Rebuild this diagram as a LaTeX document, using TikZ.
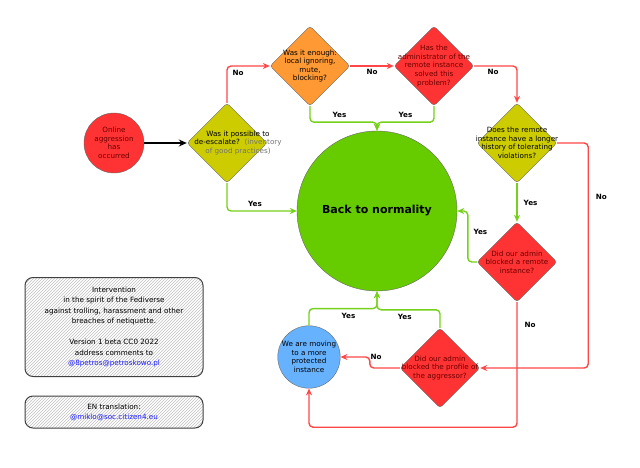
\documentclass[tikz,border=0pt]{standalone}
\usepackage{fontspec}
\setmainfont{DejaVu Sans}
\usepackage{tikz}
\usetikzlibrary{shapes.geometric,arrows.meta,positioning,patterns}
\usepackage{xcolor}
\definecolor{alarm}{HTML}{FF3333}
\definecolor{alarmtext}{HTML}{6B0000}
\definecolor{olive}{HTML}{CCCC00}
\definecolor{amber}{HTML}{FF9933}
\definecolor{calm}{HTML}{66CC00}
\definecolor{haven}{HTML}{66B2FF}
\definecolor{mention}{HTML}{1A1AFF}

\begin{document}
\begin{tikzpicture}[x=1pt, y=-1pt,
    font=\fontsize{7.2}{8.6}\selectfont,
    decision/.style={diamond, draw=black!60, minimum width=80, minimum height=80, inner sep=0pt, rounded corners=3pt},
    state/.style={circle, draw=black!60, inner sep=0pt},
    qtext/.style={align=center, inner sep=0pt},
    notebox/.style={rectangle, draw=black!75, line width=1pt, rounded corners=8pt, pattern=north east lines, pattern color=black!25, minimum width=178, align=center, font=\fontsize{7.2}{10.5}\selectfont},
    noline/.style={-{Stealth[length=7pt, width=6pt]}, line width=1.4pt, alarm!90, rounded corners=4pt},
    yesline/.style={-{Stealth[length=7pt, width=6pt]}, line width=1.4pt, calm!90!white, rounded corners=4pt},
    lbl/.style={font=\fontsize{7.2}{8}\selectfont\bfseries, text=black, inner sep=2pt}
]
    \useasboundingbox (0,0) rectangle (640,468);

    % states
    \node[state, fill=alarm, minimum size=60, text=alarmtext, align=center] (start) at (114,143) {Online\\aggression\\has\\occurred};
    \node[state, fill=calm, minimum size=160, font=\fontsize{11}{13}\selectfont\bfseries] (normal) at (377,211) {Back to normality};
    \node[state, fill=haven, minimum size=60, align=center] (move) at (309,357) {We are moving\\to a more\\protected\\instance};

    % decisions
    \node[decision, fill=olive] (d1) at (227,143) {};
    \node[qtext] at (238,143) {Was it possible to\\de-escalate?\ \ {\color{black!55}(inventory}\\{\color{black!55}of good practices)}};
    \node[decision, fill=amber] (d2) at (310,66) {};
    \node[qtext] at (d2) {Was it enough:\\local ignoring,\\mute,\\blocking?};
    \node[decision, fill=alarm] (d3) at (434,66) {};
    \node[qtext, text=alarmtext] at (d3) {Has the\\administrator of the\\remote instance\\solved this\\problem?};
    \node[decision, fill=olive] (d4) at (517,143) {};
    \node[qtext] at (d4) {Does the remote\\instance have a longer\\history of tolerating\\violations?};
    \node[decision, fill=alarm] (d5) at (517,262) {};
    \node[qtext, text=alarmtext] at (d5) {Did our admin\\blocked a remote\\instance?};
    \node[decision, fill=alarm] (d6) at (440,368) {};
    \node[qtext, text=alarmtext] at (d6) {Did our admin\\blocked the profile of\\the aggressor?};

    % notes
    \node[notebox, minimum height=99] (about) at (114,327) {Intervention\\in the spirit of the Fediverse\\against trolling, harassment and other\\breaches of netiquette.\\[10.5pt]Version 1 beta CC0 2022\\address comments to\\{\color{mention}@8petros@petroskowo.pl}};
    \node[notebox, minimum height=32, font=\fontsize{7.2}{10}\selectfont] (transl) at (114,412) {EN translation:\\{\color{mention}@miklo@soc.citizen4.eu}};

    % connectors
    \draw[-{Stealth[length=8pt, width=7pt]}, line width=1.6pt] (start.east) -- (d1.west);
    \draw[noline] (d1.north) |- node[lbl, pos=0.4, right=3pt] {No} (d2.west);
    \draw[noline] (d2.east) -- node[lbl, below=1pt] {No} (d3.west);
    \draw[noline] (d3.east) -| node[lbl, pos=0.22, below=1pt] {No} (d4.north);
    \draw[noline] (d4.east) -- ++(31,0) |- node[lbl, pos=0.12, right=5pt] {No} (d6.east);
    \draw[noline] (d5.south) -- node[lbl, pos=0.18, right=5pt] {No} ++(0,125) -| (move.south);
    \draw[noline] (d6.west) -- ++(-30,0) node[lbl, above right=6pt and -2pt] {No} |- (move.east);

    \draw[yesline] (d1.south) |- node[lbl, pos=0.7, above=2pt] {Yes} (normal.west);
    \draw[yesline] (d2.south) -- ++(0,16) -| node[lbl, pos=0.22, above=2pt] {Yes} (normal.north);
    \draw[yesline] (d3.south) -- ++(0,16) -| node[lbl, pos=0.25, above=2pt] {Yes} (normal.north);
    \draw[yesline] (d4.south) -- node[lbl, right=4pt] {Yes} (d5.north);
    \draw[yesline] (d5.west) -- ++(-9,0) |- node[lbl, pos=0.29, right=3pt] {Yes} (normal.east);
    \draw[yesline] (move.north) -- ++(0,-17) -| node[lbl, pos=0.29, below=2pt] {Yes} (normal.south);
    \draw[yesline] (d6.north) -- ++(0,-18) -| node[lbl, pos=0.28, below=2pt] {Yes} (normal.south);
\end{tikzpicture}
\end{document}
